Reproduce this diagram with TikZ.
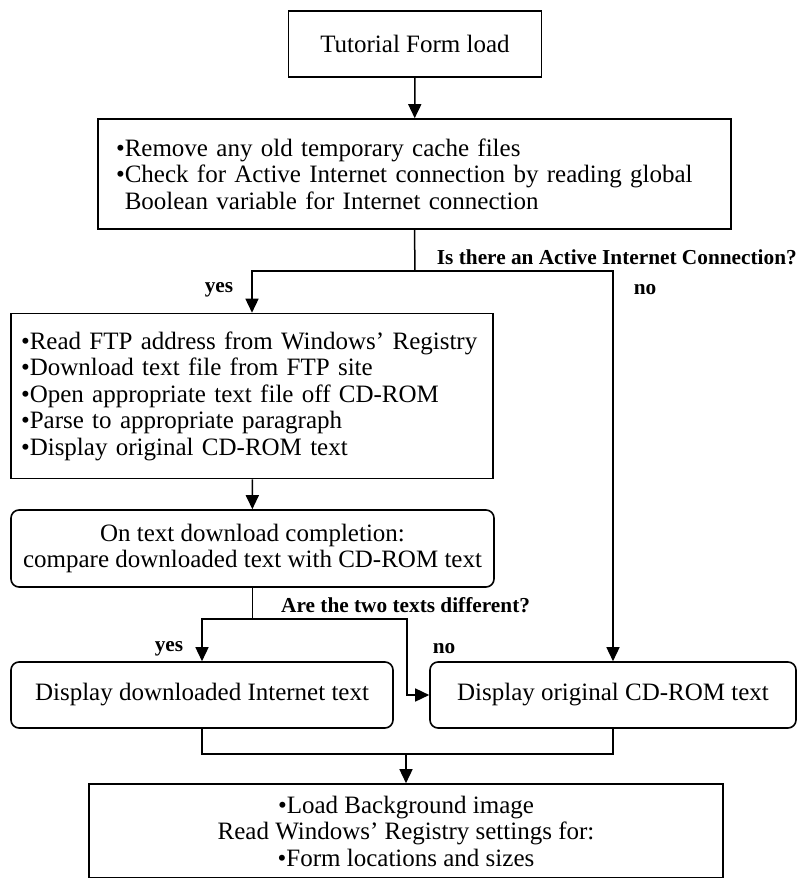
\documentclass[tikz,border=0pt]{standalone}
\usepackage{fontspec}
\setmainfont{Liberation Serif}
\usetikzlibrary{arrows.meta,calc}
\begin{document}
\begin{tikzpicture}[x=1pt,y=-1pt,
  every node/.style={font=\fontsize{25}{26.5}\selectfont},
  box/.style={draw,line width=1.6pt,inner sep=0pt},
  rbox/.style={box,rounded corners=8pt},
  lbl/.style={font=\fontsize{21.3}{22}\selectfont\bfseries,inner sep=0pt},
  conn/.style={line width=1.5pt},
  arr/.style={conn,-{Triangle[length=14pt,width=13pt]}}]
\useasboundingbox (0,0) rectangle (798,878);
\node[box,minimum width=253pt,minimum height=66pt] (b1) at (415,44) {Tutorial Form load};
\node[box,minimum width=633pt,minimum height=110pt,text width=597pt,inner xsep=18pt,align=left] (b2) at (414.5,174)
  {•Remove any old temporary cache files\\•Check for Active Internet connection by reading global\\\phantom{•}Boolean variable for Internet connection};
\node[box,minimum width=482pt,minimum height=165pt,text width=462pt,inner xsep=10pt,align=left] (b3) at (252,396)
  {•Read FTP address from Windows’ Registry\\•Download text file from FTP site\\•Open appropriate text file off CD-ROM\\•Parse to appropriate paragraph\\•Display original CD-ROM text};
\node[rbox,minimum width=483pt,minimum height=77pt,align=center] (b4) at (252.5,548.5)
  {On text download completion:\\compare downloaded text with CD-ROM text};
\node[rbox,minimum width=382pt,minimum height=66pt] (b5) at (202,695) {Display downloaded Internet text};
\node[rbox,minimum width=366pt,minimum height=66pt] (b6) at (613,695) {Display original CD-ROM text};
\node[box,minimum width=634pt,minimum height=94pt,align=center] (b7) at (406,831)
  {•Load Background image\\Read Windows’ Registry settings for:\\•Form locations and sizes};
% labels
\node[lbl,anchor=east] (q1) at (797,257) {Is there an Active Internet Connection?};
\node[lbl] (y1) at (219,290) {yes};
\node[lbl] (n1) at (645,290) {no};
\node[lbl,anchor=west] (q2) at (281,605) {Are the two texts different?};
\node[lbl] (y2) at (169,649) {yes};
\node[lbl] (n2) at (444,649) {no};
% connectors
\coordinate (dj) at (415,271);
\coordinate (dj2) at (252.5,619);
\coordinate (nr) at (407,619);
\coordinate (mj) at (406,754);
\draw[arr] (b1) -- (b2);
\draw[conn] (b2.south) -- (dj);
\draw[arr] (dj) -| (b3.north);
\draw[arr] (dj) -| (b6.north);
\draw[arr] (b3) -- (b4);
\draw[conn] (b4.south) -- (dj2);
\draw[arr] (dj2) -| (b5.north);
\draw[arr] (dj2) -- (nr) |- (b6.west);
\draw[conn] (b5.south) |- (mj) -| (b6.south);
\draw[arr] (mj) -- (b7.north);
\end{tikzpicture}
\end{document}
